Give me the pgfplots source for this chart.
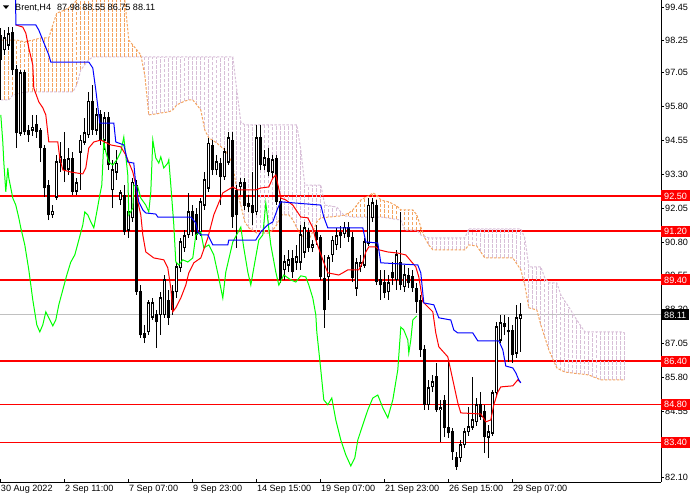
\documentclass[border=0pt]{standalone}
\usepackage{pgfplots}
\pgfplotsset{compat=1.18}
\usepackage{pgfplotstable}
\usepackage{fontspec}
\setmainfont{Liberation Sans}

\definecolor{sandy}{RGB}{244,164,96}
\definecolor{thist}{RGB}{216,191,216}
\definecolor{limeg}{RGB}{0,255,0}
\definecolor{bidgrey}{RGB}{192,192,192}
\definecolor{lvlred}{RGB}{255,0,0}

\newcommand\fs{\fontsize{9.1}{10}\selectfont}

\tikzset{pbox/.style={anchor=west, text=white, font=\fs, inner xsep=3pt, inner ysep=2.2pt, text height=6.6pt, text depth=0pt}}

% Brent H4 bars: index open high low close
\pgfplotstableread{
i o h l c
0 98.44 98.70 96.04 97.52
1 97.89 98.62 97.70 98.33
2 98.07 98.73 97.89 98.48
3 98.55 98.73 96.96 97.15
4 97.15 97.33 94.27 94.82
5 94.82 97.15 94.71 97.04
6 97.04 97.15 94.75 94.86
7 94.93 95.12 94.49 94.75
8 94.93 95.49 94.71 95.04
9 95.12 95.49 94.64 94.86
10 94.93 95.01 93.75 94.27
11 94.27 94.38 92.46 92.79
12 92.90 93.09 91.61 91.80
13 91.80 92.16 91.69 91.94
14 92.46 94.01 92.35 93.75
15 93.75 94.49 93.38 93.94
16 93.83 94.86 93.01 93.46
17 93.49 94.27 93.27 93.86
18 93.90 94.12 92.53 92.65
19 92.68 93.16 92.53 92.98
20 94.12 94.75 92.72 94.56
21 94.49 95.38 94.38 94.82
22 94.75 96.34 94.64 96.00
23 96.00 96.59 94.75 94.93
24 94.93 95.75 94.75 95.49
25 95.49 95.67 94.38 94.56
26 94.56 95.60 94.20 95.38
27 95.38 95.60 93.46 93.64
28 92.72 93.83 92.05 93.46
29 93.38 94.20 93.09 93.71
30 92.35 92.72 92.16 92.61
31 92.53 92.90 91.06 91.17
32 91.24 92.16 90.95 91.91
33 91.69 93.16 91.54 93.01
34 92.90 93.09 88.85 88.96
35 88.96 89.21 87.26 87.37
36 87.44 87.74 87.07 87.26
37 87.48 88.66 87.37 88.55
38 88.03 88.73 87.92 88.55
39 88.11 88.29 86.89 87.85
40 88.11 88.96 87.37 88.73
41 88.11 89.58 88.00 89.40
42 88.66 89.03 87.74 88.00
43 88.96 89.21 88.11 88.29
44 88.96 90.06 88.73 89.88
45 89.84 90.95 89.69 90.80
46 90.58 91.24 90.43 91.02
47 91.06 92.61 90.95 91.91
48 91.91 92.16 91.02 91.17
49 91.80 92.05 90.87 91.06
50 91.17 92.42 91.02 92.28
51 92.16 93.38 91.98 93.09
52 92.79 94.64 92.65 94.45
53 94.38 94.56 93.27 93.46
54 93.46 94.01 93.27 93.75
55 93.71 93.90 92.16 93.20
56 93.20 94.27 93.09 94.12
57 93.75 94.86 93.64 94.64
58 94.56 94.86 91.32 91.72
59 92.72 92.90 90.58 91.80
60 92.83 93.16 92.53 92.98
61 92.98 93.16 91.98 92.16
62 92.24 92.53 91.91 92.09
63 92.16 93.38 91.43 91.87
64 91.91 95.12 91.80 94.64
65 94.64 95.12 93.46 93.64
66 93.64 94.20 93.46 93.90
67 93.90 94.27 93.24 93.38
68 93.38 94.01 93.16 93.83
69 93.90 94.01 92.16 92.28
70 92.28 92.42 89.29 89.40
71 89.77 90.32 89.40 90.06
72 89.95 90.51 89.69 90.14
73 90.21 90.51 89.47 89.69
74 90.06 90.69 89.77 90.25
75 90.06 91.43 89.77 91.06
76 90.43 91.54 90.21 91.32
77 91.17 91.32 90.43 90.58
78 90.58 90.87 90.43 90.69
79 91.17 91.43 90.69 90.87
80 90.95 91.06 89.40 89.51
81 89.47 90.32 87.63 88.29
82 89.51 90.32 88.66 90.21
83 90.32 91.02 90.06 90.87
84 90.69 91.32 90.51 91.02
85 91.17 91.39 90.58 91.02
86 91.10 91.54 90.95 91.35
87 91.32 91.54 90.80 90.98
88 90.98 91.17 89.32 89.47
89 89.10 90.21 88.81 90.03
90 89.88 90.32 89.69 90.03
91 89.95 90.95 89.84 90.80
92 90.76 92.42 90.65 92.16
93 91.69 92.42 91.54 92.24
94 92.16 92.35 89.21 89.32
95 89.40 89.77 88.66 89.21
96 89.32 89.77 88.73 88.92
97 88.96 89.58 88.66 89.29
98 89.66 90.06 89.21 89.47
99 89.40 90.51 89.03 90.32
100 90.06 91.91 89.03 89.21
101 89.14 89.95 88.96 89.58
102 89.58 89.84 89.10 89.29
103 89.51 89.77 88.96 89.10
104 89.10 89.29 88.18 88.59
105 88.66 88.85 86.56 86.82
106 86.82 87.00 84.60 84.79
107 84.79 85.71 84.60 85.41
108 85.45 85.89 85.26 85.63
109 85.82 86.34 84.53 84.60
110 84.60 84.97 83.42 84.68
111 84.97 85.15 83.60 83.94
112 83.94 86.37 83.57 83.75
113 83.79 83.94 82.76 83.05
114 82.83 83.05 82.39 82.50
115 82.83 83.49 82.68 83.31
116 83.31 83.94 83.20 83.79
117 83.79 84.71 83.64 83.97
118 83.97 85.82 83.86 84.23
119 84.16 85.04 84.01 84.79
120 84.79 85.26 84.23 84.34
121 84.53 84.79 83.01 83.60
122 83.60 84.05 82.83 83.79
123 83.75 85.34 83.64 85.23
124 85.23 87.85 85.12 87.66
125 87.18 88.11 87.07 87.81
126 87.81 88.11 87.37 87.66
127 87.55 88.03 86.37 87.48
128 87.55 87.74 86.34 86.63
129 86.70 88.48 86.52 88.00
130 87.98 88.55 86.75 88.11
}\candles

% Ichimoku cloud: Senkou span A and B per bar (shifted 26 bars ahead)
\pgfplotstableread{
i A B
0 98.25 96.04
1 98.25 96.04
2 98.25 96.04
3 98.25 96.22
4 98.25 96.26
5 98.22 96.30
6 98.18 96.32
7 98.22 96.34
8 98.25 96.34
9 98.29 96.34
10 98.33 96.34
11 98.33 96.34
12 98.33 96.34
13 98.81 96.34
14 99.25 96.34
15 99.30 96.34
16 99.36 96.34
17 99.45 96.34
18 99.55 96.34
19 99.73 96.59
20 99.91 97.15
21 99.91 97.34
22 99.91 97.52
23 99.91 97.63
24 99.91 97.63
25 99.91 97.63
26 99.91 97.63
27 99.91 97.63
28 99.91 97.63
29 99.91 97.63
30 99.91 97.63
31 99.73 97.63
32 98.25 97.63
33 98.07 97.63
34 97.89 97.63
35 97.70 97.63
36 96.96 97.63
37 95.49 97.63
38 95.51 97.63
39 95.53 97.63
40 95.56 97.63
41 95.58 97.63
42 95.60 97.63
43 95.67 97.63
44 95.86 97.63
45 95.93 97.63
46 96.00 97.63
47 96.04 97.63
48 96.04 97.63
49 95.86 97.63
50 95.67 97.63
51 94.93 97.63
52 94.64 97.63
53 94.55 97.63
54 94.45 97.63
55 94.32 97.63
56 94.20 97.63
57 93.97 97.63
58 93.64 97.63
59 92.72 96.41
60 92.16 95.23
61 91.54 95.12
62 91.32 95.12
63 91.22 95.12
64 91.13 95.12
65 91.13 95.12
66 91.13 95.12
67 91.13 95.12
68 91.24 95.12
69 91.43 95.12
70 91.80 95.12
71 91.80 95.12
72 91.80 95.12
73 91.61 95.12
74 91.32 95.12
75 91.06 94.20
76 90.96 92.90
77 90.87 92.90
78 91.17 92.90
79 91.54 92.90
80 91.69 92.90
81 91.70 92.16
82 91.72 92.14
83 91.73 92.11
84 91.75 92.09
85 91.76 91.91
86 91.80 91.76
87 91.87 91.74
88 91.98 91.72
89 92.16 91.72
90 92.35 91.72
91 92.43 91.72
92 92.50 91.72
93 92.61 91.72
94 92.53 91.72
95 92.35 91.72
96 92.31 91.70
97 92.28 91.68
98 92.20 91.65
99 92.13 91.63
100 91.98 91.61
101 91.98 91.24
102 91.98 91.24
103 91.98 91.24
104 91.80 91.24
105 91.35 91.06
106 90.95 91.00
107 90.69 90.95
108 90.51 90.95
109 90.51 90.95
110 90.51 90.95
111 90.51 90.95
112 90.51 90.95
113 90.51 90.95
114 90.51 90.95
115 90.51 90.95
116 90.51 90.95
117 90.69 91.28
118 90.67 91.28
119 90.65 91.28
120 90.43 91.28
121 90.21 91.28
122 90.21 91.28
123 90.21 91.28
124 90.21 91.28
125 90.21 91.28
126 90.21 91.28
127 90.21 91.28
128 90.21 91.28
129 89.99 91.28
130 89.77 91.28
131 89.21 90.95
132 88.37 89.88
133 88.33 89.88
134 88.29 89.88
135 87.74 89.88
136 87.28 89.47
137 86.82 89.29
138 86.48 89.29
139 86.15 89.29
140 86.07 88.85
141 86.00 88.62
142 85.98 88.40
143 85.96 88.16
144 85.94 87.92
145 85.93 87.70
146 85.91 87.48
147 85.89 87.48
148 85.83 87.48
149 85.77 87.48
150 85.71 87.48
151 85.71 87.48
152 85.71 87.48
153 85.71 87.48
154 85.71 87.48
155 85.71 87.48
156 85.71 87.44
}\cloud

\begin{document}
\begin{tikzpicture}
\begin{axis}[
  name=ax,
  width=661pt, height=482pt, scale only axis,
  xmin=-0.2, xmax=165.05, ymin=81.94, ymax=99.73,
  axis x line=bottom, axis y line=right,
  axis line style={-, black, line width=0.8pt},
  tick align=inside,
  major tick length=3pt,
  tick style={black, line width=0.8pt},
  ytick style={xshift=3pt},
  xtick={0,16,32,48,64,80,96,112,128},
  xticklabels={30 Aug 2022, 2 Sep 11:00, 7 Sep 07:00, 9 Sep 23:00, 14 Sep 15:00, 19 Sep 07:00, 21 Sep 23:00, 26 Sep 15:00, 29 Sep 07:00},
  xticklabel style={anchor=north west, inner xsep=0pt, inner ysep=1pt, yshift=-2pt, font=\fs},
  ytick={99.45,98.25,97.05,95.80,94.55,93.30,92.05,90.80,89.55,88.30,87.05,85.80,84.55,83.30,82.10},
  yticklabels={99.45,98.25,97.05,95.80,94.55,93.30,92.05,90.80,89.55,88.30,87.05,85.80,84.55,83.30,82.10},
  yticklabel style={anchor=west, font=\fs, inner xsep=0pt, xshift=4pt},
]

% horizontal levels and bid line, under everything else
\addplot[lvlred, line width=1.5pt, forget plot] coordinates {(-0.2,92.50) (80,92.50) (165.05,92.50)};
\addplot[lvlred, line width=1.5pt, forget plot] coordinates {(-0.2,91.20) (80,91.20) (165.05,91.20)};
\addplot[lvlred, line width=1.5pt, forget plot] coordinates {(-0.2,89.40) (80,89.40) (165.05,89.40)};
\addplot[lvlred, line width=1.5pt, forget plot] coordinates {(-0.2,86.40) (80,86.40) (165.05,86.40)};
\addplot[lvlred, line width=1.5pt, forget plot] coordinates {(-0.2,84.80) (80,84.80) (165.05,84.80)};
\addplot[lvlred, line width=1.5pt, forget plot] coordinates {(-0.2,83.40) (80,83.40) (165.05,83.40)};
\addplot[bidgrey, line width=1pt, forget plot] coordinates {(-0.2,88.11) (165.05,88.11)};

% cloud as dotted histogram between the spans, coloured by which span is on top
\addplot[draw=none, mark=none, forget plot,
  error bars/.cd, y dir=plus, y explicit, error mark=none,
  error bar style={draw=sandy, line width=1pt, dash pattern=on 3.5pt off 1.5pt}]
  table[x=i, y expr={\thisrow{A}>\thisrow{B} ? \thisrow{B} : nan},
        y error plus expr=\thisrow{A}-\thisrow{B}] {\cloud};
\addplot[draw=none, mark=none, forget plot,
  error bars/.cd, y dir=plus, y explicit, error mark=none,
  error bar style={draw=thist, line width=1pt, dash pattern=on 3.5pt off 1.5pt}]
  table[x=i, y expr={\thisrow{A}>\thisrow{B} ? nan : \thisrow{A}},
        y error plus expr=\thisrow{B}-\thisrow{A}] {\cloud};
\addplot[sandy, line width=1pt, dash pattern=on 2.5pt off 1.5pt, forget plot] table[x=i, y=A] {\cloud};
\addplot[thist, line width=1pt, dash pattern=on 2.5pt off 1.5pt, forget plot] table[x=i, y=B] {\cloud};

% candles: wicks, bearish bodies, bullish bodies (outline + white inside)
\addplot[draw=none, mark=none, forget plot,
  error bars/.cd, y dir=plus, y explicit, error mark=none,
  error bar style={draw=black, solid, line width=1pt}]
  table[x=i, y=l, y error plus expr=\thisrow{h}-\thisrow{l}] {\candles};
\addplot[draw=none, mark=none, forget plot,
  error bars/.cd, y dir=plus, y explicit, error mark=none,
  error bar style={draw=black, solid, line width=3pt}]
  table[x=i, y expr={\thisrow{c}<\thisrow{o} ? \thisrow{c}-0.015 : nan},
        y error plus expr=\thisrow{o}-\thisrow{c}+0.03] {\candles};
\addplot[draw=none, mark=none, forget plot,
  error bars/.cd, y dir=plus, y explicit, error mark=none,
  error bar style={draw=black, solid, line width=3pt}]
  table[x=i, y expr={\thisrow{c}<\thisrow{o} ? nan : \thisrow{o}-0.02},
        y error plus expr=\thisrow{c}-\thisrow{o}+0.04] {\candles};
\addplot[draw=none, mark=none, forget plot,
  error bars/.cd, y dir=plus, y explicit, error mark=none,
  error bar style={draw=white, solid, line width=1pt}]
  table[x=i, y expr={\thisrow{c}<\thisrow{o} ? nan : \thisrow{o}+0.03},
        y error plus expr={max(\thisrow{c}-\thisrow{o}-0.06,0)}] {\candles};

% Chikou span
\addplot[limeg, line width=1pt, forget plot] coordinates {
(0,95.49) (0.5,94.49) (0.75,93.75) (1.25,92.65) (1.75,93.53) (2,93.16) (3,92.42) (3.75,92.16) (4.5,91.69) (5,91.32) (6,90.69) (7,89.77) (8,88.66) (9,87.74) (9.75,87.48) (10.5,87.74) (11.25,88.22) (12,88.00) (13,87.70) (13.75,87.92) (14.5,88.48) (15.5,89.03) (16.5,89.58) (17.5,90.06) (18.5,90.32) (19.5,90.87) (20.5,91.43) (21,91.91) (21.75,91.80) (22.5,91.54) (23.25,91.32) (24,91.91) (24.75,92.53) (25.25,92.90) (25.75,94.49) (26.25,94.12) (27,93.75) (28,93.64) (29,93.83) (30,94.12) (30.75,94.67) (31.75,93.27) (32,91.80) (33,92.05) (33.25,92.90) (34.25,92.83) (35,92.42) (36.25,92.16) (37,91.91) (37.5,92.65) (38,94.56) (38.75,93.90) (39.5,93.71) (40,93.94) (40.75,93.53) (41.75,93.71) (42,93.83) (42.5,92.90) (43.25,91.43) (43.75,90.06) (44.5,89.95) (45.5,90.14) (46.75,90.06) (48,90.21) (48.75,91.06) (50,91.17) (50.75,90.58) (52,90.69) (53.25,90.32) (54.5,89.47) (55.5,88.73) (56.25,89.69) (58,90.80) (60,91.35) (60.75,90.58) (61.75,89.69) (62.5,89.21) (63.25,89.84) (64.5,90.87) (65.5,91.06) (66.25,92.24) (67.5,90.69) (68.75,89.69) (69.5,89.21) (70.75,89.58) (72.5,89.40) (73.75,89.32) (75,89.55) (76.25,89.51) (77,89.21) (78,88.73) (78.75,88.11) (79,87.48) (80,86.08) (80.75,84.97) (81.75,84.79) (82.75,85.04) (83.75,84.23) (85,83.49) (86.25,82.94) (87.5,82.53) (88.5,82.83) (89.25,83.49) (90.5,84.05) (91.75,84.60) (93,85.04) (94.25,85.15) (95.5,84.68) (96.75,84.31) (98,84.97) (99.25,86.08) (100,87.66) (100.75,87.55) (101.75,87.18) (102,86.70) (102.5,87.18) (103,87.92) (104,88.07)};

% Tenkan-sen
\addplot[lvlred, line width=1pt, forget plot] coordinates {
(3.75,98.81) (5.5,98.73) (6.25,98.51) (7,97.96) (8,97.33) (8.25,96.48) (9.5,95.97) (10.5,95.75) (11.25,95.49) (12,94.49) (14.25,94.49) (14.75,93.90) (15.5,93.46) (17.5,93.38) (20.5,93.31) (21.25,93.53) (22,94.27) (23.25,94.49) (25,94.56) (27.5,94.38) (30,94.31) (31.25,94.01) (33,93.38) (33.75,92.90) (34.25,92.28) (35,91.80) (35.5,91.06) (36.25,90.43) (38.25,90.21) (40.75,90.14) (41.75,89.84) (42.5,89.10) (43,88.22) (43.75,88.37) (45,88.73) (46.25,89.21) (47,89.66) (48.25,90.03) (50,90.21) (51.75,90.95) (53.25,91.80) (55.5,92.61) (58,92.83) (59.25,92.72) (63.75,92.72) (65,92.79) (67,92.83) (68,93.16) (68.75,93.27) (70,92.42) (71.25,92.35) (73,92.16) (75,91.72) (76.75,91.69) (78,91.32) (78.75,90.87) (80.5,90.14) (81.75,89.66) (84.5,89.58) (85.5,89.66) (86.75,89.77) (89.5,89.77) (90.5,90.06) (91.25,90.43) (92,90.62) (93.75,90.62) (94.5,90.51) (96.75,90.43) (99.25,90.39) (101.25,90.32) (103.75,89.88) (104.5,89.51) (105.5,88.59) (108,88.22) (108.75,87.44) (109.5,86.93) (111.75,86.56) (113,85.71) (114.25,84.86) (115,84.49) (120,84.45) (121.25,84.16) (122.5,84.23) (123.25,84.79) (124.25,85.26) (125,85.45) (128,85.49) (129.25,85.71) (130,85.60)};

% Kijun-sen
\addplot[blue, line width=1pt, forget plot] coordinates {
(3.7,100.5) (3.75,98.81) (8.75,98.81) (9.5,98.62) (10.5,98.25) (12,97.70) (12.5,97.44) (22,97.44) (23,97.22) (23.75,96.41) (24.75,95.19) (28.25,95.19) (28.75,94.49) (30.75,94.38) (31.75,93.75) (33.25,93.71) (33.75,92.90) (34.5,92.28) (35.5,91.98) (36.25,91.87) (38.75,91.83) (39.25,91.72) (47.5,91.72) (48.75,91.50) (49.25,91.17) (50,91.06) (51.75,91.06) (53,90.69) (56.75,90.69) (57,90.87) (63.75,90.87) (65,91.17) (66.75,91.43) (68,91.54) (69.25,92.05) (70,92.28) (80,92.16) (80.75,91.72) (81.75,91.32) (90.5,91.32) (91.25,90.80) (94.25,90.76) (95,90.03) (104.25,89.95) (105,89.66) (105.75,88.55) (108.25,88.48) (109.5,88.00) (112.5,87.92) (113.25,87.55) (114.25,87.44) (118,87.44) (119.25,87.15) (124.5,87.15) (125.5,86.82) (126.25,86.22) (128,86.15) (128.75,85.97) (129.5,85.71) (130,85.60)};

\coordinate (q1) at (axis cs:165.05,92.50);
\coordinate (q2) at (axis cs:165.05,91.20);
\coordinate (q3) at (axis cs:165.05,89.40);
\coordinate (q4) at (axis cs:165.05,88.11);
\coordinate (q5) at (axis cs:165.05,86.40);
\coordinate (q6) at (axis cs:165.05,84.80);
\coordinate (q7) at (axis cs:165.05,83.40);
\end{axis}

\node[pbox, fill=lvlred] at (q1) {92.50};
\node[pbox, fill=lvlred] at (q2) {91.20};
\node[pbox, fill=lvlred] at (q3) {89.40};
\node[pbox, fill=black] at (q4) {88.11};
\node[pbox, fill=lvlred] at (q5) {86.40};
\node[pbox, fill=lvlred] at (q6) {84.80};
\node[pbox, fill=lvlred] at (q7) {83.40};

\fill ([xshift=3pt,yshift=-5.5pt]ax.north west) -- ++(6pt,0) -- ++(-3pt,-3.5pt) -- cycle;
\node[anchor=west, font=\fs, inner sep=0pt] at ([xshift=15pt,yshift=-8pt]ax.north west) {Brent,H4\hspace{6pt}87.98 88.55 86.75 88.11};

\pgfresetboundingbox
\path ([yshift=-18pt]ax.south west) rectangle ([xshift=39pt]ax.north east);
\end{tikzpicture}
\end{document}
